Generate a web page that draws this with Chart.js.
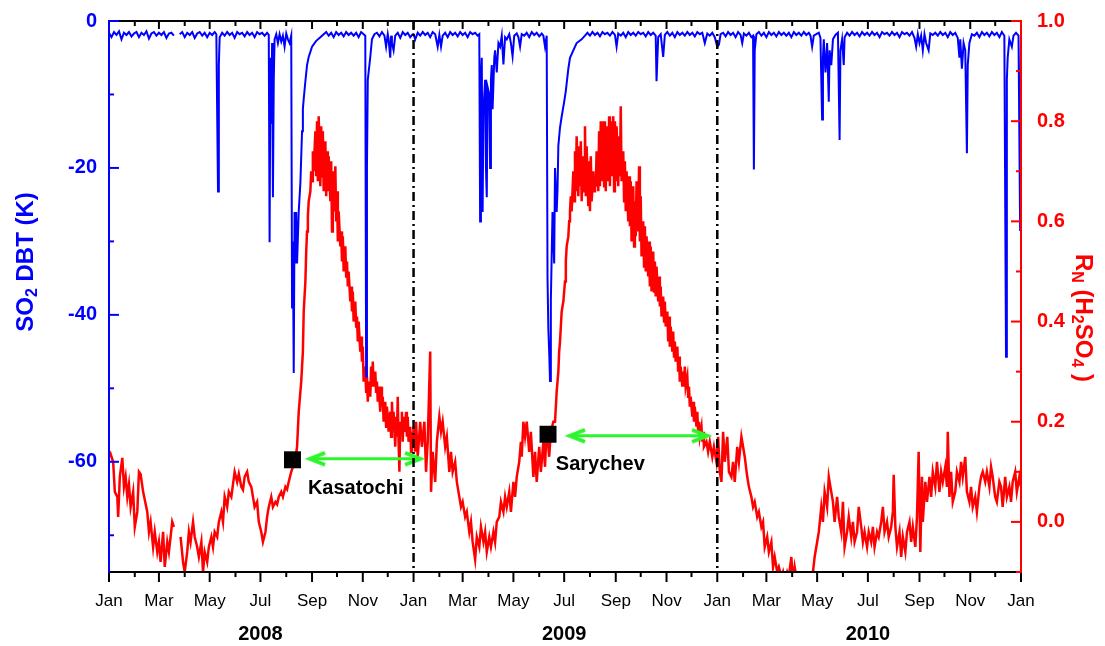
<!DOCTYPE html>
<html>
<head>
<meta charset="utf-8">
<script src="https://cdn.jsdelivr.net/npm/chart.js@4.4.0/dist/chart.umd.min.js"></script>
<style>
  body { margin: 0; background: #fff; }
  #wrap { width: 1105px; height: 646px; position: relative; }
</style>
</head>
<body>
<div id="wrap"><canvas id="chart"></canvas></div>
<script>
const FONT = 'Arial, "Liberation Sans", sans-serif';
const GREEN = '#2cf52c';

// x is days since 1 Jan 2008
const monthTickDays = [0,31,60,91,121,152,182,213,244,274,305,335,366,397,425,456,486,517,547,578,609,639,670,700,731,762,790,821,851,882,912,943,974,1004,1035,1065,1096];
const monthNames = ['Jan','Feb','Mar','Apr','May','Jun','Jul','Aug','Sep','Oct','Nov','Dec'];
const yearLabels = ['2008','2009','2010'];
const yearCentreDays = [182,547,912];
const yearBoundaryDays = [366,731];
const leftTicks = [-60,-40,-20,0];
const rightTicks = [0,0.2,0.4,0.6,0.8,1.0];

// eruptions: marker, arrow span, label
const eruptionNames = ['Kasatochi','Sarychev'];
const eruptionDays = [220.5, 527.6];
const eruptionRN = [0.124, 0.175];
const arrowStartDays = [241.6, 554];
const arrowEndDays = [373.8, 718.7];
const arrowRN = [0.126, 0.172];
const labelDays = [239, 537];
const labelRN = [0.066, 0.114];

// R_N (H2SO4), right axis  [day, value]
const red2008 = [[1,.13],[2,.135],[5,.12],[7,.06],[10,.05],[11,.01],[13,.09],[16,.128],[18,.07],[20,.09],[22,.05],[24,.075],[26,.03],[29,.06],[31,-.01],[34,.02],[36,.1],[38,.095],[41,.06],[43,.044],[46,.02],[48,-.02],[50,0],[53,-.05],[55,-.02],[58,-.06],[60,-.04],[62,-.08],[65,-.02],[67,-.09],[70,-.04],[72,-.06],[76,0],[78,-.01],[80,null],[86,-.03],[89,-.08],[91,-.1],[94,-.06],[96,-.02],[98,-.04],[101,0],[103,-.03],[106,-.05],[108,-.07],[111,-.04],[113,-.1],[115,-.06],[118,-.08],[120,-.05],[123,-.03],[125,-.05],[127,-.02],[130,-.03],[132,0],[135,.02],[137,0],[139,.05],[142,.03],[144,.06],[147,.05],[149,.075],[151,.1],[154,.08],[156,.096],[159,.07],[161,.064],[163,.09],[166,.1],[168,.08],[171,.07],[173,.05],[175,.03],[178,.04],[180,0],[183,-.02],[185,-.04],[188,-.02],[190,.01],[192,.03],[195,.05],[197,.03],[200,.04],[202,.035],[204,.05],[207,.06],[209,.05],[212,.07],[214,.065],[216,.08],[219,.1],[221,.11],[224,.125],[226,.15],[228,.22],[231,.28],[233,.34],[234,.42],[236,.48],[237,.54],[238,.58],[239,.61],[240,.64],[242,.66],[243,.7],[244,.68],[245,.74],[246,.7],[248,.78],[249,.69],[250,.8],[251,.68],[252,.81],[254,.67],[255,.79],[256,.69],[257,.78],[258,.66],[260,.76],[261,.65],[262,.74],[263,.66],[264,.73],[266,.64],[267,.72],[268,.58],[269,.7],[270,.62],[272,.71],[273,.6],[274,.66],[275,.56],[276,.62],[278,.55],[279,.58],[280,.52],[281,.57],[282,.5],[284,.55],[285,.49],[286,.52],[287,.47],[288,.5],[290,.44],[291,.47],[292,.42],[293,.46],[294,.4],[296,.44],[297,.39],[298,.41],[299,.36],[300,.4],[302,.34],[303,.37],[304,.32],[305,.35],[306,.28],[308,.31],[309,.26],[310,.29],[311,.24],[312,.28],[314,.25],[315,.31],[316,.27],[317,.32],[318,.27],[320,.3],[321,.26],[322,.28],[323,.24],[324,.27],[326,.22],[327,.27],[328,.23],[329,.25],[330,.2],[332,.24],[333,.19],[334,.23],[335,.21],[336,.18],[338,.22],[339,.17],[340,.24],[341,.19],[342,.22],[344,.15],[345,.21],[346,.17],[347,.25],[348,.16],[349,.1],[350,.2],[351,.18],[352,.22],[353,.16],[354,.21],[356,.18],[357,.22],[358,.17],[359,.21],[360,.16],[362,.19],[363,.14],[364,.18],[365,.15]];
const red2009 = [[366,.19],[368,.14],[369,.2],[371,.13],[374,.2],[376,.15],[379,.2],[381,.1],[383,.16],[386,.34],[387,.06],[389,.14],[392,.08],[394,.16],[397,.21],[399,.18],[401,.2],[404,.15],[406,.17],[409,.1],[411,.14],[413,.1],[416,.12],[418,.08],[421,.05],[423,.03],[425,.04],[428,.01],[430,.02],[433,-.02],[435,0],[437,-.04],[440,-.075],[442,-.03],[445,-.05],[447,-.01],[450,-.04],[452,-.02],[454,-.06],[457,-.03],[459,-.05],[462,-.02],[464,-.04],[466,0],[469,.01],[471,.04],[474,.02],[476,.05],[478,.03],[481,.06],[483,.02],[486,.08],[488,.05],[490,.09],[493,.12],[495,.16],[496,.13],[498,.2],[500,.17],[502,.2],[505,.14],[507,.18],[510,.09],[512,.14],[514,.08],[517,.15],[519,.1],[522,.16],[524,.11],[526,.19],[529,.13],[531,.18],[534,.2],[536,.2],[538,.26],[540,.3],[541,.34],[542,.36],[544,.42],[546,.44],[548,.48],[549,.52],[550,.55],[552,.57],[553,.6],[554,.62],[555,.65],[556,.62],[558,.7],[559,.64],[560,.74],[561,.66],[562,.77],[564,.65],[565,.75],[566,.67],[567,.76],[568,.64],[570,.73],[571,.66],[572,.79],[573,.65],[574,.75],[576,.63],[577,.72],[578,.62],[579,.73],[580,.64],[582,.7],[583,.66],[584,.69],[585,.67],[586,.74],[588,.66],[589,.78],[590,.67],[591,.8],[592,.68],[594,.8],[595,.67],[596,.8],[597,.66],[598,.79],[600,.68],[601,.81],[602,.67],[603,.8],[604,.69],[606,.81],[607,.66],[608,.8],[609,.68],[610,.79],[612,.67],[613,.77],[614,.69],[615,.83],[616,.68],[618,.74],[619,.64],[620,.72],[621,.62],[622,.7],[624,.6],[625,.69],[626,.59],[627,.68],[628,.56],[630,.67],[631,.55],[632,.64],[633,.57],[634,.68],[636,.58],[637,.71],[638,.56],[639,.65],[640,.53],[642,.6],[643,.51],[644,.59],[645,.5],[646,.57],[648,.49],[649,.56],[650,.47],[651,.55],[652,.46],[654,.54],[655,.46],[656,.52],[657,.45],[658,.51],[660,.44],[661,.49],[662,.43],[663,.47],[664,.41],[666,.45],[667,.4],[668,.44],[669,.39],[671,.42],[672,.36],[673,.41],[674,.35],[675,.39],[677,.34],[678,.38],[679,.33],[680,.36],[681,.32],[683,.35],[684,.3],[685,.33],[686,.28],[687,.31],[689,.27],[690,.3],[691,.27],[692,.31],[693,.27],[695,.29],[696,.25],[697,.27],[698,.23],[699,.25],[701,.21],[702,.24],[703,.2],[704,.23],[706,.19],[707,.22],[708,.18],[709,.2],[710,.17],[712,.19],[713,.16],[714,.18],[715,.15],[718,.16],[720,.14],[722,.16],[725,.13],[727,.15],[730,.12]];
const red2010 = [[732,.17],[734,.1],[736,.08],[738,.18],[740,.12],[743,.17],[745,.1],[748,.09],[750,.12],[752,.08],[755,.15],[757,.12],[760,.17],[762,.15],[764,.13],[767,.09],[769,.07],[772,.05],[774,.03],[776,.04],[779,.01],[781,.02],[784,-.01],[786,0],[788,-.05],[791,-.03],[793,-.06],[796,-.04],[798,-.09],[800,-.07],[803,-.1],[805,-.09],[808,-.11],[810,-.1],[812,-.12],[815,-.1],[817,-.11],[820,-.07],[822,-.12],[824,-.09],[827,-.12],[829,-.15],[832,-.12],[834,-.13],[836,-.14],[839,-.12],[841,-.13],[844,-.11],[846,-.1],[848,-.07],[851,-.04],[853,-.02],[856,.03],[858,0],[860,.06],[863,.03],[865,.09],[868,.06],[870,.04],[872,0],[875,.05],[877,.01],[880,-.02],[882,.04],[884,-.05],[887,-.02],[889,.01],[892,-.03],[894,0],[896,-.04],[899,-.02],[901,.03],[904,-.01],[906,-.04],[908,-.02],[911,-.05],[913,-.02],[916,-.04],[918,-.01],[920,-.05],[923,-.02],[925,-.03],[928,0],[930,.03],[932,-.02],[935,0],[937,-.03],[940,-.01],[942,.02],[943,.094],[945,-.01],[947,-.05],[950,-.02],[952,-.07],[954,-.03],[957,-.06],[959,-.02],[962,0],[964,-.04],[966,-.01],[969,-.05],[971,.01],[973,.14],[975,-.06],[977,.09],[978,0],[981,.08],[983,.04],[986,.09],[988,.05],[990,.1],[993,.07],[995,.12],[998,.06],[1000,.1],[1002,.08],[1005,.11],[1007,.07],[1008,.18],[1010,.05],[1012,.1],[1014,.04],[1017,.06],[1019,.1],[1022,.08],[1024,.12],[1026,.09],[1029,.13],[1031,.06],[1034,.04],[1036,.07],[1038,.03],[1041,.05],[1043,.02],[1046,.07],[1048,.09],[1050,.1],[1053,.08],[1055,.1],[1058,.07],[1060,.11],[1062,.09],[1065,.05],[1067,.04],[1070,.08],[1072,.07],[1074,.03],[1077,.09],[1079,.05],[1082,.07],[1084,.04],[1086,.08],[1089,.1],[1091,.06],[1094,.09],[1096,.07]];

// SO2 DBT (K), left axis  [day, value]
const blue2008 = [[0,-1.6],[3,-2.2],[6,-1.5],[9,-1.9],[12,-1.4],[15,-2.5],[18,-1.6],[21,-1.9],[24,-1.5],[27,-2.1],[30,-1.7],[33,-1.5],[36,-2.2],[39,-1.6],[42,-1.9],[45,-1.4],[48,-2.4],[51,-1.7],[54,-1.5],[57,-2.0],[60,-1.6],[63,-1.9],[66,-1.5],[69,-2.3],[72,-1.7],[75,-1.6],[78,-2.0],[80,null],[85,-1.8],[88,-1.5],[91,-2.2],[94,-1.6],[97,-1.9],[100,-1.5],[103,-2.3],[106,-1.7],[109,-1.5],[112,-2.0],[115,-1.6],[118,-2.2],[121,-1.6],[124,-1.9],[127,-1.5],[129,-1.8],[131,-23.2],[132,-6],[133,-2.2],[136,-1.6],[139,-2.0],[142,-1.5],[145,-1.9],[148,-1.6],[151,-2.3],[154,-1.5],[157,-1.8],[160,-1.6],[163,-2.1],[166,-1.5],[169,-1.9],[172,-1.6],[175,-2.2],[178,-1.5],[181,-1.8],[184,-1.6],[187,-2.0],[190,-1.6],[192,-1.9],[193,-30.1],[194,-5],[195,-14],[196,-3],[197,-24],[198,-8],[199,-2.5],[201,-1.8],[203,-3],[205,-1.8],[207,-2.8],[209,-2.0],[211,-3.5],[213,-1.7],[215,-2.5],[217,-3],[219,-2],[220,-39],[221,-30],[222,-47.9],[223,-26],[224,-33],[225,-26],[226,-33],[228,-26],[230,-22],[232,-15],[233,-12],[234,-10.6],[236,-8.2],[238,-6],[240,-4.9],[244,-3.5],[249,-2.7],[254,-2.2],[258,-1.8],[261,-1.5],[264,-2.0],[267,-1.6],[270,-2.2],[273,-1.5],[276,-1.9],[279,-1.6],[282,-2.1],[285,-1.5],[288,-1.9],[291,-1.6],[294,-2.0],[297,-1.6],[300,-2.2],[303,-1.5],[306,-1.8],[308,-2],[309,-48.4],[310,-20],[311,-8],[314,-4.9],[316,-2.5],[319,-1.8],[322,-1.6],[325,-2.1],[328,-1.5],[331,-2.0],[333,-3.5],[335,-1.8],[336,-2.5],[338,-5],[339,-2.0],[340,-3],[342,-4],[344,-2],[347,-1.6],[350,-2.3],[353,-1.5],[356,-1.9],[359,-1.6],[362,-2.2],[365,-1.8]];
const blue2009 = [[366,-1.8],[368,-2.5],[371,-1.6],[374,-2.0],[377,-1.5],[380,-1.9],[383,-1.6],[386,-2.2],[389,-1.5],[392,-1.8],[395,-3.5],[397,-1.9],[399,-3.5],[401,-2.0],[404,-1.6],[407,-2.2],[410,-1.5],[413,-1.9],[416,-1.6],[419,-2.1],[422,-1.5],[425,-1.9],[428,-1.6],[431,-2.2],[434,-1.5],[437,-1.8],[440,-1.6],[443,-2.0],[445,-1.8],[446,-27.3],[447,-8],[448,-5],[449,-26],[450,-12],[452,-8],[453,-20],[454,-24],[455,-9],[457,-10],[458,-20],[459,-8],[460,-6],[461,-12],[463,-5],[464,-4],[466,-7],[468,-3],[470,-3.5],[472,-2],[474,-5.9],[476,-2.2],[478,-2.5],[481,-1.8],[483,-3],[485,-4.8],[487,-2.0],[490,-1.7],[492,-2.2],[494,-3.5],[496,-1.8],[499,-2.0],[502,-1.6],[505,-2.2],[508,-1.5],[511,-1.9],[514,-1.6],[517,-2.1],[520,-1.7],[522,-2.0],[524,-3.5],[526,-2.0],[527,-35],[528,-42],[529,-45],[530,-49],[531,-38],[533,-26],[535,-33],[536,-20],[538,-26],[539,-23],[540,-17],[542,-14.5],[544,-13],[547,-11],[549,-9.5],[552,-6.5],[554,-5],[558,-4],[562,-3],[568,-2.5],[572,-2.0],[575,-1.6],[578,-2.0],[581,-1.5],[584,-1.9],[587,-1.6],[590,-2.1],[593,-1.5],[596,-1.8],[599,-1.6],[602,-2.0],[605,-1.5],[608,-1.9],[610,-3.5],[612,-1.7],[615,-2.0],[618,-1.6],[621,-2.2],[624,-1.5],[627,-1.9],[630,-1.6],[633,-2.0],[636,-1.5],[639,-1.8],[642,-1.6],[645,-2.1],[648,-1.5],[651,-1.9],[654,-1.6],[657,-2],[658,-8.2],[660,-2.2],[663,-1.8],[666,-4.9],[668,-1.9],[671,-1.5],[674,-2.0],[677,-1.6],[680,-2.2],[683,-1.5],[686,-1.9],[689,-1.6],[692,-2.0],[695,-1.5],[698,-1.9],[701,-1.6],[704,-2.1],[707,-1.5],[710,-1.8],[713,-1.6],[716,-3],[719,-1.7],[722,-2.0],[725,-1.6],[728,-2.2],[731,-3.5]];
const blue2010 = [[733,-3.2],[735,-1.8],[738,-1.6],[741,-2.1],[744,-1.5],[747,-1.9],[750,-1.6],[753,-2.2],[756,-1.5],[759,-1.9],[761,-3],[763,-1.7],[766,-2.0],[769,-1.6],[772,-2.2],[774,-2],[775,-20.2],[776,-4],[778,-1.8],[781,-1.5],[784,-2.0],[787,-1.6],[790,-2.2],[793,-1.5],[796,-1.9],[799,-1.6],[802,-2.1],[805,-1.5],[808,-1.9],[811,-1.6],[814,-2.0],[817,-1.6],[820,-2.2],[823,-1.5],[826,-1.9],[829,-1.6],[832,-2.0],[835,-1.5],[838,-1.9],[841,-1.6],[843,-2],[845,-3.5],[847,-2],[850,-1.8],[853,-1.6],[855,-2.3],[857,-13.4],[858,-5],[859,-2.5],[860,-5],[861,-7],[863,-3],[865,-11],[866,-4],[868,-6],[870,-2.5],[873,-1.9],[876,-1.6],[878,-16.2],[879,-4],[881,-2.5],[883,-6],[884,-2.2],[887,-1.6],[890,-2.0],[893,-1.5],[896,-1.9],[899,-1.6],[902,-2.1],[905,-1.5],[908,-1.9],[911,-1.6],[914,-2.0],[917,-1.5],[920,-1.9],[923,-1.6],[926,-2.2],[929,-1.5],[932,-1.8],[935,-1.6],[938,-2.0],[941,-1.5],[944,-1.9],[947,-1.6],[950,-2.2],[953,-1.5],[956,-1.8],[959,-1.6],[962,-2.0],[965,-1.5],[968,-2.3],[970,-3.5],[972,-1.8],[974,-3],[976,-2.0],[978,-4],[980,-1.8],[982,-3],[985,-4],[987,-1.7],[990,-1.9],[993,-1.6],[996,-2.0],[999,-1.5],[1002,-1.9],[1005,-1.6],[1008,-2.2],[1011,-1.5],[1014,-1.9],[1017,-1.6],[1020,-2.3],[1022,-5],[1023,-2.5],[1025,-6.5],[1027,-3],[1029,-4],[1031,-18],[1032,-6],[1034,-3],[1037,-1.8],[1040,-2.0],[1043,-1.6],[1046,-2.2],[1049,-1.5],[1052,-1.9],[1055,-1.6],[1058,-2.1],[1061,-1.5],[1064,-1.9],[1067,-1.6],[1070,-2.2],[1073,-1.5],[1076,-2],[1078,-45.7],[1079,-8],[1080,-5],[1082,-2.5],[1085,-3.5],[1087,-2.0],[1090,-1.6],[1093,-2.0],[1095,-28.6],[1096,-2]];

const toPoints = rows => rows.map(([d, v]) => ({ x: d, y: v }));

function arrowHead(pointRight) {
  const c = document.createElement('canvas');
  c.width = 40; c.height = 20;
  const g = c.getContext('2d');
  g.strokeStyle = GREEN;
  g.lineWidth = 4;
  g.lineJoin = 'miter';
  const tip = 20, back = pointRight ? tip - 15 : tip + 15;
  g.beginPath();
  g.moveTo(back, 4); g.lineTo(tip, 10); g.lineTo(back, 16);
  g.stroke();
  return c;
}
const leftHead = arrowHead(false);
const rightHead = arrowHead(true);

function drawRich(ctx, parts, x, y, rot, color) {
  const big = 'bold 24px ' + FONT, small = 'bold 16px ' + FONT;
  let total = 0;
  parts.forEach(p => { ctx.font = p.sub ? small : big; p.w = ctx.measureText(p.t).width; total += p.w; });
  ctx.save();
  ctx.translate(x, y);
  ctx.rotate(rot);
  ctx.fillStyle = color;
  ctx.textBaseline = 'middle';
  ctx.textAlign = 'left';
  let cx = -total / 2;
  parts.forEach(p => {
    ctx.font = p.sub ? small : big;
    ctx.fillText(p.t, cx, p.sub ? 7 : 0);
    cx += p.w;
  });
  ctx.restore();
}

const decor = {
  id: 'decor',
  afterDatasetsDraw(chart) {
    const { ctx, chartArea: a, scales: { x, yL, yR } } = chart;
    const seg = (x1, y1, x2, y2) => { ctx.beginPath(); ctx.moveTo(x1, y1); ctx.lineTo(x2, y2); ctx.stroke(); };
    ctx.save();

    // year boundaries
    ctx.strokeStyle = '#000';
    ctx.lineWidth = 2.5;
    ctx.setLineDash([9, 4, 2, 4]);
    yearBoundaryDays.forEach(d => { const px = x.getPixelForValue(d); seg(px, a.top, px, a.bottom); });
    ctx.setLineDash([]);

    // month ticks, bottom outward and top inward
    ctx.lineWidth = 2;
    monthTickDays.forEach((d, i) => {
      const px = x.getPixelForValue(d);
      seg(px, a.bottom, px, a.bottom + (i % 2 === 0 ? 10 : 5));
      seg(px, a.top, px, a.top + (i % 2 === 0 ? 8 : 5));
    });
    seg(a.left, a.bottom, a.right, a.bottom);
    seg(a.left, a.top, a.right, a.top);

    ctx.strokeStyle = '#0000ff';
    for (let v = -70; v <= 0; v += 10) {
      const py = yL.getPixelForValue(v);
      seg(a.left, py, a.left + (v % 20 === 0 ? 10 : 5), py);
    }
    seg(a.left, a.top - 1, a.left, a.bottom + 1);

    ctx.strokeStyle = '#ff0000';
    for (let k = -1; k <= 10; k++) {
      const py = yR.getPixelForValue(k / 10);
      seg(a.right - (k % 2 === 0 ? 10 : 5), py, a.right, py);
    }
    seg(a.right, a.top - 1, a.right, a.bottom + 1);

    // years under the month labels
    ctx.fillStyle = '#000';
    ctx.font = 'bold 20px ' + FONT;
    ctx.textAlign = 'center';
    ctx.textBaseline = 'middle';
    yearLabels.forEach((t, i) => ctx.fillText(t, x.getPixelForValue(yearCentreDays[i]), 634));

    // eruption names
    ctx.textAlign = 'left';
    eruptionNames.forEach((t, i) => ctx.fillText(t, x.getPixelForValue(labelDays[i]), yR.getPixelForValue(labelRN[i])));

    // axis titles
    drawRich(ctx, [{ t: 'SO' }, { t: '2', sub: true }, { t: ' DBT (K)' }], 26, 262, -Math.PI / 2, '#0000ff');
    drawRich(ctx, [{ t: 'R' }, { t: 'N', sub: true }, { t: ' (H' }, { t: '2', sub: true }, { t: 'SO' }, { t: '4', sub: true }, { t: ' )' }], 1083, 318, Math.PI / 2, '#ff0000');
    ctx.restore();
  }
};

new Chart(document.getElementById('chart'), {
  type: 'line',
  data: {
    datasets: [
      {
        label: 'SO2 DBT',
        data: toPoints([...blue2008, ...blue2009, ...blue2010]),
        yAxisID: 'yL',
        borderColor: '#0000ff',
        borderWidth: 2,
        pointRadius: 0,
        spanGaps: false,
        order: 1
      },
      {
        label: 'RN H2SO4',
        data: toPoints([...red2008, ...red2009, ...red2010]),
        yAxisID: 'yR',
        borderColor: '#ff0000',
        borderWidth: 2.5,
        pointRadius: 0,
        spanGaps: false,
        order: 2
      },
      {
        label: 'eruptions',
        data: eruptionDays.map((d, i) => ({ x: d, y: eruptionRN[i] })),
        yAxisID: 'yR',
        showLine: false,
        pointStyle: 'rect',
        pointRadius: 12,
        backgroundColor: '#000',
        borderWidth: 0,
        order: 0
      },
      ...arrowStartDays.map((d, i) => ({
        label: 'arrow ' + eruptionNames[i],
        data: [{ x: d, y: arrowRN[i] }, { x: arrowEndDays[i], y: arrowRN[i] }],
        yAxisID: 'yR',
        borderColor: GREEN,
        borderWidth: 3,
        pointStyle: [leftHead, rightHead],
        pointRadius: 5,
        order: 0
      }))
    ]
  },
  options: {
    responsive: true,
    maintainAspectRatio: false,
    animation: false,
    events: [],
    layout: { padding: { top: 21, left: 0, right: 0, bottom: 0 } },
    plugins: { legend: { display: false }, tooltip: { enabled: false } },
    scales: {
      x: {
        type: 'linear',
        min: 0,
        max: 1096,
        afterBuildTicks: s => { s.ticks = monthTickDays.map(v => ({ value: v })); },
        afterFit: s => { s.height = 74; },
        grid: { display: false },
        border: { display: false },
        ticks: {
          autoSkip: false,
          maxRotation: 0,
          padding: 11,
          color: '#000',
          font: { family: FONT, size: 17 },
          callback: (v, i) => (i % 2 === 0 ? monthNames[i % 12] : '')
        }
      },
      yL: {
        type: 'linear',
        position: 'left',
        min: -75,
        max: 0,
        afterBuildTicks: s => { s.ticks = leftTicks.map(v => ({ value: v })); },
        afterFit: s => { s.width = 109; },
        grid: { display: false },
        border: { display: false },
        ticks: { padding: 4, color: '#0000ff', font: { family: FONT, size: 20, weight: 'bold' }, callback: v => String(v) }
      },
      yR: {
        type: 'linear',
        position: 'right',
        min: -0.1,
        max: 1.0,
        afterBuildTicks: s => { s.ticks = rightTicks.map(v => ({ value: v })); },
        afterFit: s => { s.width = 84; },
        grid: { display: false },
        border: { display: false },
        ticks: { padding: 8, color: '#ff0000', font: { family: FONT, size: 20, weight: 'bold' }, callback: v => v.toFixed(1) }
      }
    }
  },
  plugins: [decor]
});
</script>
</body>
</html>
